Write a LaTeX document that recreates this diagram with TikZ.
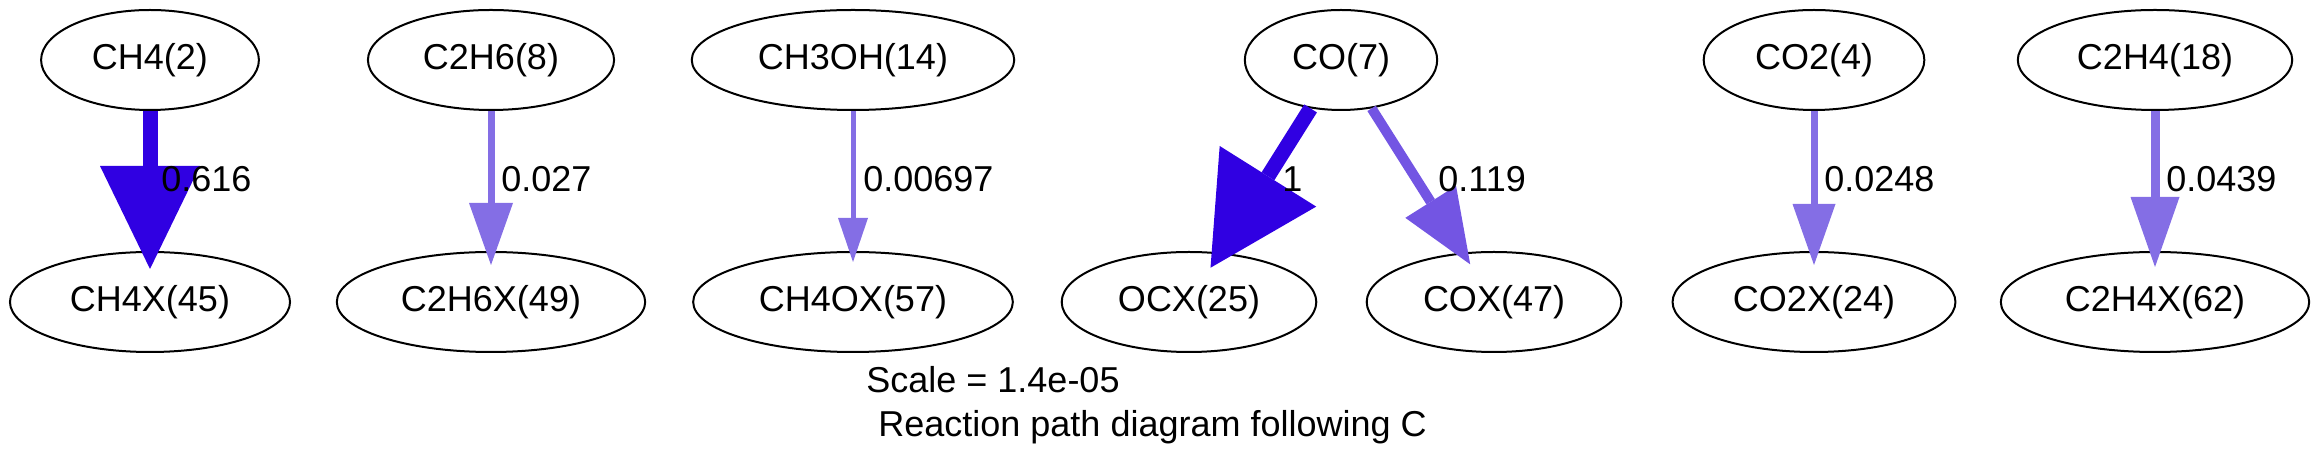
\documentclass[tikz,border=0pt]{standalone}
\usepackage{fontspec}
\setmainfont{Liberation Sans}
\usetikzlibrary{arrows.meta,shapes.geometric}
\definecolor{fluxhi}{RGB}{48,0,226}
\definecolor{fluxmid}{RGB}{115,85,227}
\definecolor{fluxlo}{RGB}{132,110,229}

\begin{document}
\begin{tikzpicture}
	[x=0.5pt,y=-0.5pt,
	spc/.style={ellipse,draw,line width=1pt,inner xsep=9.5pt,inner ysep=1pt,minimum height=50pt},
	val/.style={anchor=base west,inner sep=0pt},
	fluxhead/.style 2 args={-{Triangle[length=#1,width=#2,line width=0pt]}},
	font=\fontsize{18}{21}\selectfont]
	\useasboundingbox (0,0) rectangle (2318,469);
	% gas phase
	\node[spc] (ch4) at (150,60) {CH4(2)};
	\node[spc] (c2h6) at (491,60) {C2H6(8)};
	\node[spc] (ch3oh) at (853,60) {CH3OH(14)};
	\node[spc] (co) at (1341,60) {CO(7)};
	\node[spc] (co2) at (1814,60) {CO2(4)};
	\node[spc] (c2h4) at (2155,60) {C2H4(18)};
	% surface
	\node[spc] (ch4x) at (150,302) {CH4X(45)};
	\node[spc] (c2h6x) at (491,302) {C2H6X(49)};
	\node[spc] (ch4ox) at (853,302) {CH4OX(57)};
	\node[spc] (ocx) at (1189,302) {OCX(25)};
	\node[spc] (cox) at (1494,302) {COX(47)};
	\node[spc] (co2x) at (1814,302) {CO2X(24)};
	\node[spc] (c2h4x) at (2155,302) {C2H4X(62)};
	% fluxes
	\draw[fluxhi,line width=7.5pt,fluxhead={51.5pt}{50pt},shorten >=-9pt] (ch4) -- (ch4x);
	\draw[fluxlo,line width=3.5pt,fluxhead={31pt}{22pt},shorten >=-7pt] (c2h6) -- (c2h6x);
	\draw[fluxlo,line width=2.5pt,fluxhead={22pt}{15pt},shorten >=-5.5pt] (ch3oh) -- (ch4ox);
	\draw[fluxhi,line width=7.5pt,fluxhead={54pt}{57pt},shorten >=-9pt] (co) -- (ocx);
	\draw[fluxmid,line width=5pt,fluxhead={37pt}{30pt},shorten >=-7pt] (co) -- (cox);
	\draw[fluxlo,line width=3.5pt,fluxhead={30.5pt}{21.5pt},shorten >=-7pt] (co2) -- (co2x);
	\draw[fluxlo,line width=4.5pt,fluxhead={35pt}{24.5pt},shorten >=-8pt] (c2h4) -- (c2h4x);
	% values
	\node[val] (v1) at (161,192) {0.616};
	\node[val] (v2) at (501,192) {0.027};
	\node[val] (v3) at (863,192) {0.00697};
	\node[val] (v4) at (1282,192) {1};
	\node[val] (v5) at (1438,192) {0.119};
	\node[val] (v6) at (1824,192) {0.0248};
	\node[val] (v7) at (2166,192) {0.0439};
	% caption
	\node[val] (scale) at (866,393) {Scale = 1.4e-05};
	\node[val] (title) at (878,437) {Reaction path diagram following C};
\end{tikzpicture}
\end{document}
